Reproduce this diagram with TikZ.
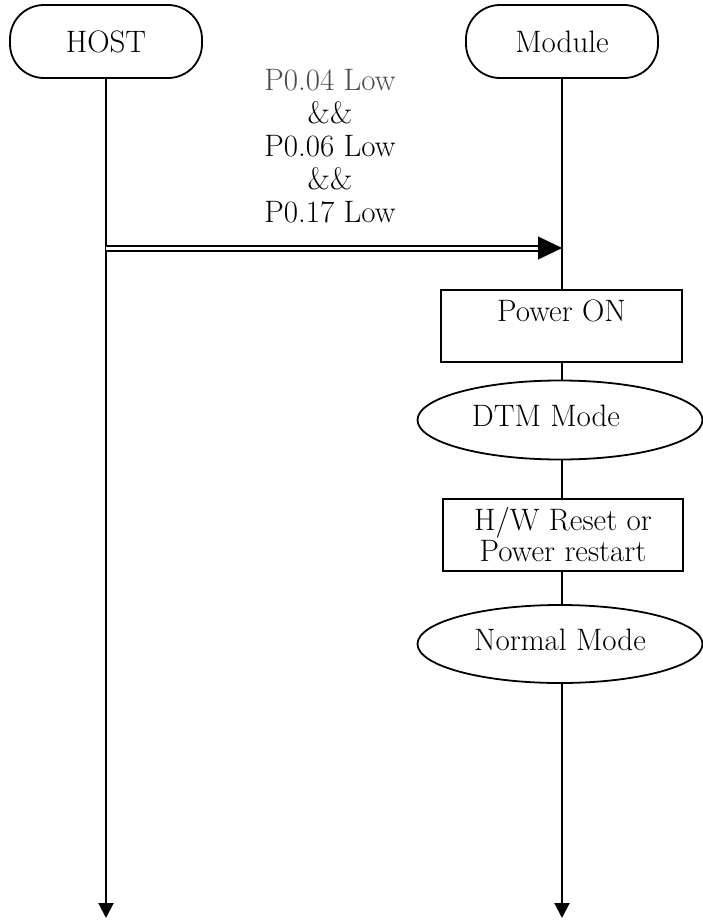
\documentclass[tikz,border=0pt]{standalone}
\usetikzlibrary{arrows.meta,shapes.geometric}
\begin{document}
\begin{tikzpicture}[x=1pt,y=-1pt,
  every node/.style={font=\fontsize{31}{33}\selectfont, inner sep=0pt},
  actor/.style={draw, line width=1.8pt, rounded corners=34pt, minimum width=192pt, minimum height=73pt},
  life/.style={line width=2pt, -{Triangle[length=15pt,width=15pt]}},
  stepbox/.style={draw, line width=1.8pt, fill=white, minimum width=241pt},
  modebox/.style={draw, ellipse, line width=1.8pt, fill=white, minimum width=285pt, minimum height=79pt},
  dline/.style={line width=2pt, double, double distance=3pt}
]
\useasboundingbox (0,0) rectangle (702,921);
% actors
\node[actor] (host) at (106,41.5) {HOST};
\node[actor] (mod) at (562,41.5) {Module};
\coordinate (hend) at (106,918);
\coordinate (mend) at (562,918);
% lifelines
\draw[life] (host.south) -- (hend);
\draw[life] (mod.south) -- (mend);
% message
\coordinate (ms) at (106,248);
\coordinate (me) at (562,248);
\coordinate (mb) at (538,248);
\draw[dline] (ms) -- (mb);
\draw[line width=0.1pt, -{Triangle[length=24pt,width=23pt]}] (mb) -- (me);
\node[align=center, anchor=south] (cond) at (330,223)
  {{\color{black!70}P0.04 Low}\\ \&\&\\ P0.06 Low\\ \&\&\\ P0.17 Low};
% module steps
\node[stepbox, anchor=north, text height=32pt, text depth=40pt] (pon) at (561.5,289) {Power ON};
\node[modebox] (dtm) at (560,420) {\raisebox{4pt}[\height][\depth]{DTM Mode\hspace*{28pt}}};
\node[stepbox, align=center, minimum height=72pt, minimum width=240pt] (rst) at (563,535)
  {H/W Reset or\\[-2pt] Power restart};
\node[modebox, minimum height=78pt] (nrm) at (560,644) {\raisebox{4pt}[\height][\depth]{Normal Mode}};
\end{tikzpicture}
\end{document}
